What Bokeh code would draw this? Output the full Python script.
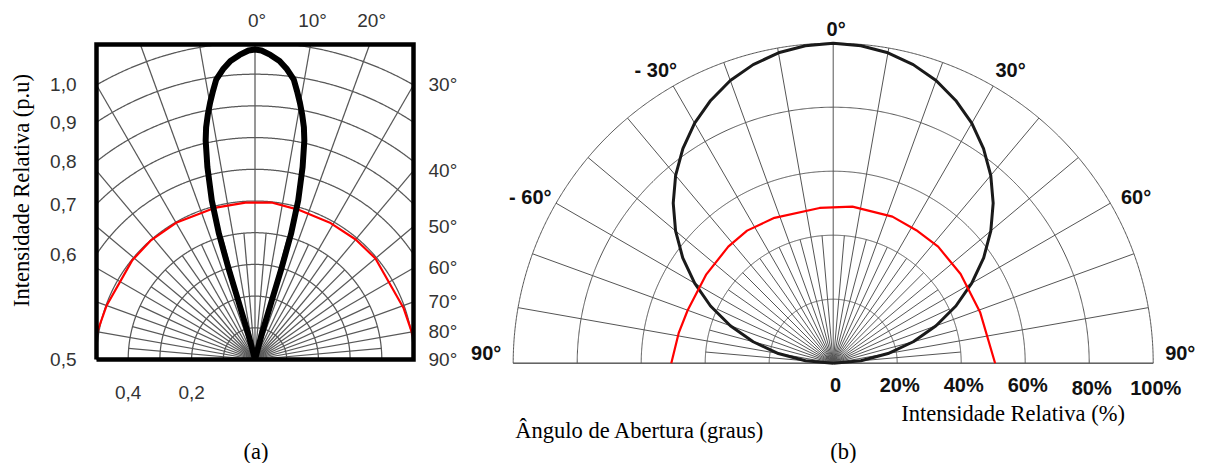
import numpy as np
from bokeh.plotting import figure
from bokeh.models import Range1d
from bokeh.embed import file_html
from bokeh.resources import INLINE
from bokeh.core.properties import value

# ---------------- data ----------------
# (a) narrow beam lobe, right half (mirrored on the left); angle in degrees, intensity in p.u.
lobe_angle_deg = [0.0, 1.2, 2.9, 4.7, 6.3, 7.9, 8.9, 9.9, 10.9, 11.9, 12.7, 13.9, 15.2, 16.0, 16.2, 15.9, 14.9, 0.0]
lobe_intensity = [0.978, 0.975, 0.962, 0.945, 0.921, 0.891, 0.857, 0.823, 0.787, 0.748, 0.708, 0.625, 0.52,
                  0.4125, 0.303, 0.1935, 0.0838, 0.0]

# (a) red curve (p.u.)
red_a_angle_deg = [-85, -80, -70, -51, -41, -30, -15, -3.5, 6, 16, 29, 40, 50, 71, 80, 85]
red_a_intensity = [0.51, 0.505, 0.498, 0.498, 0.499, 0.498, 0.495, 0.496, 0.498, 0.492, 0.492, 0.494, 0.496, 0.496, 0.502, 0.51]

# (b) black curve (%)
b_black_angle_deg = [-90, -85, -80, -75, -70, -65, -60, -55, -50, -45, -40, -35, -30, -25, -20, -15, -10, -5,
                     0, 5, 10, 15, 20, 25, 30, 35, 40, 45, 50, 55, 60, 65, 70, 75, 80, 85, 90]
b_black_pct = [0.0, 8.7, 17.4, 25.9, 34.2, 42.3, 50.0, 57.4, 64.3, 70.7, 76.6, 81.9, 86.6, 90.6, 94.0, 96.6, 98.5, 99.6,
               100.0, 99.6, 98.5, 96.6, 94.0, 90.6, 86.6, 81.9, 76.6, 70.7, 64.3, 57.4, 50.0, 42.3, 34.2, 25.9, 17.4, 8.7, 0.0]

# (b) red curve (%)
red_b_angle_deg = [-90, -79, -70, -55, -42, -33, -22, -5, 7, 22, 32, 42, 55, 71, 90]
red_b_pct = [50.6, 49.2, 48.4, 48.4, 49.0, 49.4, 49.0, 48.7, 49.3, 49.4, 49.0, 49.0, 48.6, 48.6, 50.6]

# tick labels
a_left_values = [1.0, 0.9, 0.8, 0.7, 0.6, 0.5]
a_left_labels = ["1,0", "0,9", "0,8", "0,7", "0,6", "0,5"]
a_top_angles = [0, 10, 20]
a_right_angles = [30, 40, 50, 60, 70, 80, 90]
a_bottom_values = [0.4, 0.2]
a_bottom_labels = ["0,4", "0,2"]
a_arc_radii = [0.1, 0.2, 0.3, 0.4, 0.5, 0.6, 0.7, 0.8, 0.9, 1.0]

b_angle_ticks = [-90, -60, -30, 0, 30, 60, 90]
b_angle_labels = ["90°", "- 60°", "- 30°", "0°", "30°", "60°", "90°"]
b_pct_ticks = [0, 20, 40, 60, 80, 100]
b_pct_labels = ["0", "20%", "40%", "60%", "80%", "100%"]
b_arc_pct = [20, 40, 60, 80, 100]

# ---------------- layout constants ----------------
W, H = 1205, 463
CX, CY, SCALE = 832.7, 362.7, 320.0          # panel (b) origin (px) and px per unit
A_OX, A_OY, A_SCALE = 254.5, 359.0, 317.0    # panel (a) origin (px) and px per unit
K = A_SCALE / SCALE
AX0 = (A_OX - CX) / SCALE
AY0 = (CY - A_OY) / SCALE
A_HALF = 0.5
A_YMAX = 315.0 / A_SCALE
SANS = "Liberation Sans"
SERIF = "Liberation Serif"
GRID_A = "#585858"
GRID_B = "#555555"


def polar(ang_deg, r):
    t = np.radians(np.asarray(ang_deg, dtype=float))
    r = np.asarray(r, dtype=float)
    return r * np.sin(t), r * np.cos(t)


def a2d(xa, ya):
    return AX0 + K * np.asarray(xa, dtype=float), AY0 + K * np.asarray(ya, dtype=float)


def clip_segment(x0, y0, x1, y1, box):
    xmin, xmax, ymin, ymax = box
    dx, dy = x1 - x0, y1 - y0
    t0, t1 = 0.0, 1.0
    for p_, q in ((-dx, x0 - xmin), (dx, xmax - x0), (-dy, y0 - ymin), (dy, ymax - y0)):
        if p_ == 0:
            if q < 0:
                return None
        else:
            t = q / p_
            if p_ < 0:
                t0 = max(t0, t)
            else:
                t1 = min(t1, t)
    if t0 > t1:
        return None
    return x0 + t0 * dx, y0 + t0 * dy, x0 + t1 * dx, y0 + t1 * dy


def clip_polyline(xs, ys, box):
    pieces, cx, cy = [], [], []
    for i in range(len(xs) - 1):
        s = clip_segment(xs[i], ys[i], xs[i + 1], ys[i + 1], box)
        if s is None:
            if len(cx) > 1:
                pieces.append((cx, cy))
            cx, cy = [], []
            continue
        ax, ay, bx, by = s
        if cx and abs(cx[-1] - ax) < 1e-12 and abs(cy[-1] - ay) < 1e-12:
            cx.append(bx); cy.append(by)
        else:
            if len(cx) > 1:
                pieces.append((cx, cy))
            cx, cy = [ax, bx], [ay, by]
    if len(cx) > 1:
        pieces.append((cx, cy))
    return pieces


def polar_grid(radii, full_len, fine_len):
    lines = []
    th = np.linspace(-90, 90, 721)
    for r in radii:
        lines.append(polar(th, np.full(th.shape, r)))
    for a in range(-90, 91, 10):
        lines.append(polar([a, a], [0, full_len]))
    for a in range(-85, 90, 10):
        lines.append(polar([a, a], [0, fine_len]))
    return lines


p = figure(width=W, height=H,
           x_range=Range1d(-CX / SCALE, (W - CX) / SCALE),
           y_range=Range1d((CY - H) / SCALE, CY / SCALE),
           min_border=0, min_border_left=0, min_border_right=0, min_border_top=0, min_border_bottom=0,
           toolbar_location=None, output_backend="svg", x_axis_location=None, y_axis_location=None)
for g in p.grid:
    g.visible = False
p.outline_line_color = None
p.background_fill_color = "white"
p.border_fill_color = "white"

# ================= panel (a) =================
box = (-A_HALF, A_HALF, 0.0, A_YMAX)
gxs, gys = [], []
for lx, ly in polar_grid(a_arc_radii, 1.5, 0.4):
    for px_, py_ in clip_polyline(list(lx), list(ly), box):
        dx_, dy_ = a2d(px_, py_)
        gxs.append(list(dx_)); gys.append(list(dy_))
p.multi_line(gxs, gys, line_color=GRID_A, line_width=1.25)

rx, ry = polar(red_a_angle_deg, red_a_intensity)
rxs, rys = [], []
for px_, py_ in clip_polyline(list(rx), list(ry), box):
    dx_, dy_ = a2d(px_, py_)
    rxs.append(list(dx_)); rys.append(list(dy_))
p.multi_line(rxs, rys, line_color="#ff0000", line_width=2.2)

hx, hy = polar(lobe_angle_deg, lobe_intensity)
lx = np.concatenate([-hx[::-1], hx[1:]])
ly = np.concatenate([hy[::-1], hy[1:]])
dx_, dy_ = a2d(lx, ly)
p.line(dx_, dy_, line_color="black", line_width=6, line_join="round")

bxa = [-A_HALF, A_HALF, A_HALF, -A_HALF, -A_HALF]
bya = [0.0, 0.0, A_YMAX, A_YMAX, 0.0]
dx_, dy_ = a2d(bxa, bya)
p.line(dx_, dy_, line_color="black", line_width=4.5, line_join="miter")

lab_kw = dict(text_font=value(SANS), text_font_size="19px", text_color="#333333")

left_y = [float(np.sqrt(max(v * v - A_HALF ** 2, 0.0))) for v in a_left_values]
tx, ty = a2d([-A_HALF - 20.0 / A_SCALE] * len(left_y), left_y)
p.text(x=tx, y=ty, text=a_left_labels, text_align="right", text_baseline="middle", **lab_kw)

right_y = [A_HALF / np.tan(np.radians(a)) if a < 90 else 0.0 for a in a_right_angles]
tx, ty = a2d([A_HALF + 15.0 / A_SCALE] * len(right_y), right_y)
p.text(x=tx, y=ty, text=[f"{a}°" for a in a_right_angles], text_align="left", text_baseline="middle", **lab_kw)

top_x = [A_YMAX * np.tan(np.radians(a)) + 2.0 / A_SCALE for a in a_top_angles]
tx, ty = a2d(top_x, [A_YMAX + 24.0 / A_SCALE] * len(top_x))
p.text(x=tx, y=ty, text=[f"{a}°" for a in a_top_angles], text_align="center", text_baseline="middle", **lab_kw)

tx, ty = a2d([-v for v in a_bottom_values], [-33.0 / A_SCALE] * len(a_bottom_values))
p.text(x=tx, y=ty, text=a_bottom_labels, text_align="center", text_baseline="middle", **lab_kw)

tx, ty = a2d([-0.7366], [0.533])
p.text(x=tx, y=ty, text=["Intensidade Relativa (p.u)"], angle=np.pi / 2, text_align="center",
       text_baseline="middle", text_font=value(SERIF), text_font_size="22.5px", text_color="black")
tx, ty = a2d([0.003], [-0.290])
p.text(x=tx, y=ty, text=["(a)"], text_align="center", text_baseline="middle",
       text_font=value(SERIF), text_font_size="22.5px", text_color="black")

# ================= panel (b) =================
gxs, gys = [], []
for lx_, ly_ in polar_grid([v / 100 for v in b_arc_pct], 1.0, 0.4):
    gxs.append(list(lx_)); gys.append(list(ly_))
gxs.append([-1.0, 1.0]); gys.append([0.0, 0.0])
p.multi_line(gxs, gys, line_color=GRID_B, line_width=1.0)

bx, by = polar(b_black_angle_deg, np.array(b_black_pct) / 100)
p.line(bx, by, line_color="#1a1a1a", line_width=3, line_join="round")

rx, ry = polar(red_b_angle_deg, np.array(red_b_pct) / 100)
p.line(rx, ry, line_color="#ff0000", line_width=2.2)

lab_r, lab_a = [], []
for a in b_angle_ticks:
    if a == 0:
        lab_r.append(1.045); lab_a.append(0.5)
    elif abs(a) == 90:
        lab_r.append(1.085); lab_a.append(np.sign(a) * 88.3)
    else:
        lab_r.append(1.08 if abs(a) == 60 else 1.07); lab_a.append(a + np.sign(a) * 1.2)
tx, ty = polar(lab_a, lab_r)
p.text(x=tx, y=ty, text=b_angle_labels, text_font=value(SANS), text_font_style="bold",
       text_font_size="20px", text_color="#111111", text_align="center", text_baseline="middle")

px = [v / 100 + (0.008 if v > 0 else 0.007) for v in b_pct_ticks]
py = [-0.067 if v < 80 else -0.077 for v in b_pct_ticks]
p.text(x=px, y=py, text=b_pct_labels, text_font=value(SANS), text_font_style="bold",
       text_font_size="20px", text_color="#111111", text_align="center", text_baseline="middle")

p.text(x=[0.562, -0.604, 0.032], y=[-0.156, -0.21, -0.2772],
       text=["Intensidade Relativa (%)", "Ângulo de Abertura (graus)", "(b)"],
       text_font=value(SERIF), text_font_size="22.5px", text_color="black",
       text_align="center", text_baseline="middle")

open("out.html", "w").write(file_html(p, INLINE))
